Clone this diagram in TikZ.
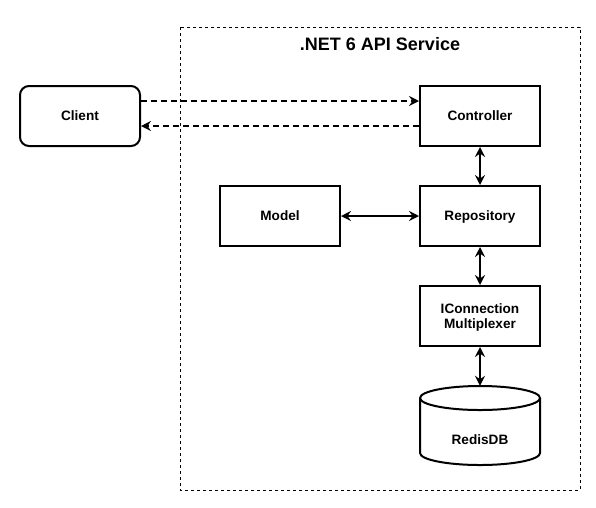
\documentclass[tikz,border=0pt]{standalone}
\usepackage{fontspec}
\setmainfont{Liberation Sans}
\usetikzlibrary{arrows.meta}
\begin{document}
\begin{tikzpicture}[x=1pt,y=1pt,
  box/.style={draw=black,line width=2pt,minimum width=120pt,minimum height=60pt,inner sep=0pt,align=center,text depth=0pt,font=\bfseries\fontsize{13.6}{15.5}\selectfont},
  rbox/.style={box,rounded corners=9pt},
  tip/.style={-{Stealth[length=10pt,width=10pt,inset=3.5pt]}},
  dtip/.style={{Stealth[length=10pt,width=10pt,inset=3.5pt]}-{Stealth[length=10pt,width=10pt,inset=3.5pt]}},
  conn/.style={line width=2pt},
  dconn/.style={line width=2pt,dash pattern=on 6pt off 4pt}]
\useasboundingbox (0,0) rectangle (596,-507);
% container
\draw[line width=0.8pt,dash pattern=on 3pt off 3pt] (180,-27) rectangle (580,-490);
\node[font=\bfseries\fontsize{18}{21}\selectfont] (title) at (380,-44) {.NET 6 API Service};
% nodes
\node[rbox] (client) at (80,-116) {Client};
\node[box] (ctrl) at (480,-116) {Controller};
\node[box] (model) at (280,-216) {Model};
\node[box] (repo) at (480,-216) {Repository};
\node[box] (mux) at (480,-316) {IConnection\\Multiplexer};
% cylinder
\draw[line width=2pt] (420,-398) -- (420,-453) arc[start angle=180,end angle=360,x radius=60,y radius=12] -- (540,-398);
\draw[line width=2pt] (480,-398) ellipse [x radius=60,y radius=12];
\node[minimum width=120pt,minimum height=80pt,inner sep=0pt] (db) at (480,-426) {};
\node[font=\bfseries\fontsize{13.6}{15.5}\selectfont] (dblabel) at (480,-440) {RedisDB};
% connectors
\draw[dconn,tip] ([yshift=15pt]client.east) -- ([yshift=15pt]ctrl.west);
\draw[dconn,tip] ([yshift=-10pt]ctrl.west) -- ([yshift=-10pt]client.east);
\draw[conn,dtip] (ctrl.south) -- (repo.north);
\draw[conn,dtip] (model.east) -- (repo.west);
\draw[conn,dtip] (repo.south) -- (mux.north);
\draw[conn,dtip] (mux.south) -- (db.north);
\end{tikzpicture}
\end{document}
